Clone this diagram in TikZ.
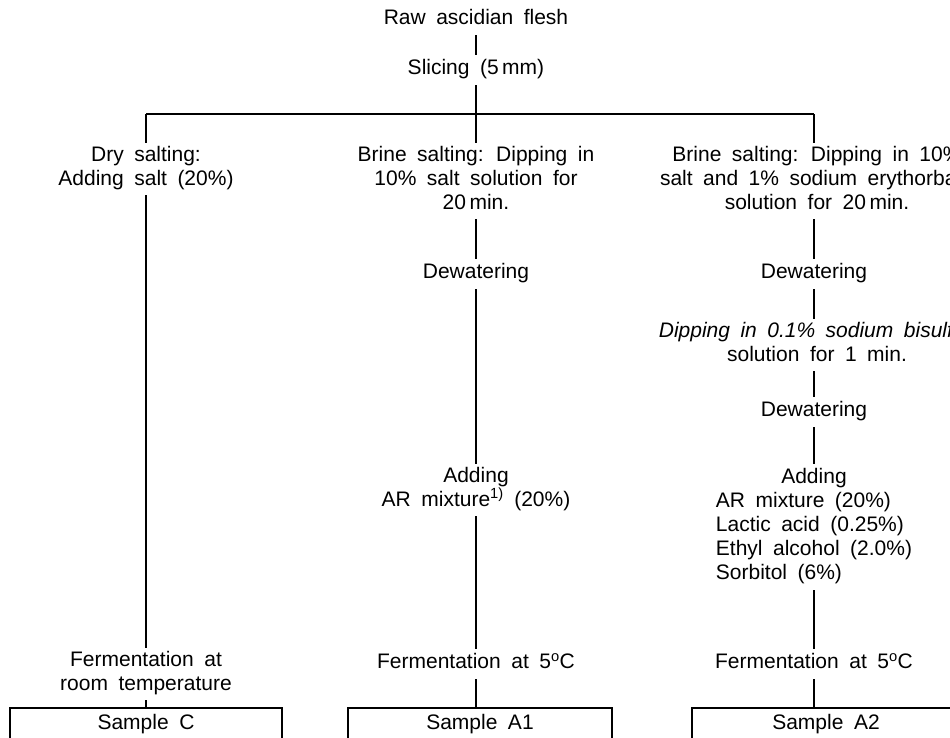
\documentclass[tikz,border=0pt]{standalone}
\usepackage{fontspec}
\setmainfont[WordSpace=1.8]{Liberation Sans}
\begin{document}
\begin{tikzpicture}[x=1pt,y=-1pt,
  txt/.style={font=\fontsize{21}{24}\selectfont, align=center, inner sep=0pt, outer sep=3pt, anchor=north,
    execute at begin node=\strut, execute at end node=\strut},
  ln/.style={line width=1.3pt},
  sbox/.style={draw, line width=2.4pt, font=\fontsize{21}{24}\selectfont, inner sep=0pt, outer sep=0pt,
    text height=21pt, text depth=20pt, anchor=north}]
\useasboundingbox (0,0) rectangle (950,737);
\clip (0,0) rectangle (950,737);
% top
\node[txt] (raw) at (476,5) {Raw ascidian flesh};
\node[txt] (slice) at (476,55) {Slicing (5\,mm)};
\coordinate (hL) at (146,114);
\coordinate (hR) at (814,114);
% left column
\node[txt] (dry) at (146,143) {Dry salting:\\Adding salt (20\%)};
\node[txt] (fermC) at (146,648) {Fermentation at\\room temperature};
\node[sbox, minimum width=272pt] (sC) at (146,708) {Sample C};
% middle column
\node[txt] (brineM) at (476,143) {Brine salting: Dipping in\\10\% salt solution for\\20\,min.};
\node[txt] (dewM) at (476,259) {Dewatering};
\node[txt] (addM) at (476,464) {Adding\\AR mixture\textsuperscript{1)} (20\%)};
\node[txt] (fermM) at (476,649) {Fermentation at 5\textsuperscript{o}C};
\node[sbox, minimum width=264pt] (sA1) at (480,708) {Sample A1};
% right column
\node[txt] (brineR) at (817,143) {Brine salting: Dipping in 10\%\\salt and 1\% sodium erythorbate\\solution for 20\,min.};
\node[txt] (dewR) at (814,259) {Dewatering};
\node[txt] (dipR) at (817,319) {\textit{Dipping in 0.1\% sodium bisulfite}\\solution for 1 min.};
\node[txt] (dew2R) at (814,397) {Dewatering};
\node[txt] (addR) at (814,464) {\begin{tabular}[t]{@{}l@{}}\multicolumn{1}{@{}c@{}}{Adding}\\AR mixture (20\%)\\Lactic acid (0.25\%)\\Ethyl alcohol (2.0\%)\\Sorbitol (6\%)\end{tabular}};
\node[txt] (fermR) at (814,649) {Fermentation at 5\textsuperscript{o}C};
\node[sbox, minimum width=268pt] (sA2) at (826,708) {Sample A2};
% connectors
\draw[ln] (raw) -- (slice);
\draw[ln] (slice) -- (brineM);
\draw[ln] (hL) -- (hR);
\draw[ln] (hL) -- (dry);
\draw[ln] (hR) -- (hR |- brineR.north);
\draw[ln] (dry) -- (fermC);
\draw[ln] (fermC) -- (sC);
\draw[ln] (brineM) -- (dewM);
\draw[ln] (dewM) -- (addM);
\draw[ln] (addM) -- (fermM);
\draw[ln] (fermM.south) -- (fermM.south |- sA1.north);
\draw[ln] (brineR.south -| dewR) -- (dewR);
\draw[ln] (dewR) -- (dewR |- dipR.north);
\draw[ln] (dipR.south -| dew2R) -- (dew2R);
\draw[ln] (dew2R) -- (addR);
\draw[ln] (addR) -- (fermR);
\draw[ln] (fermR.south) -- (fermR.south |- sA2.north);
\end{tikzpicture}
\end{document}
